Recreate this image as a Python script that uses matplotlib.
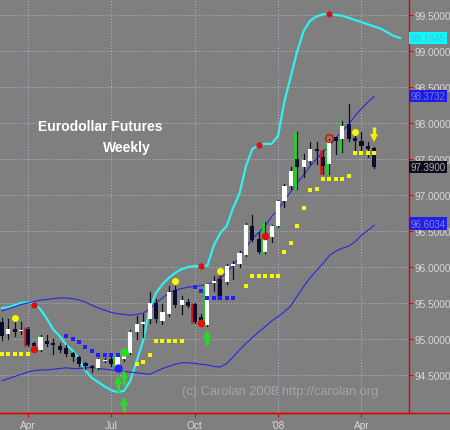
"""Eurodollar futures weekly candles with bands, stop dots and signal markers."""
import matplotlib

matplotlib.use("Agg")
import matplotlib.pyplot as plt
from matplotlib.lines import Line2D
from matplotlib.patches import Rectangle

plt.rcParams["font.family"] = ["Liberation Sans", "DejaVu Sans"]

# weekly bars, index 0 = early March 2007
opens = [95.24, 95.07, 95.14, 95.11, 95.14, 94.94, 94.85, 94.97, 94.94, 94.90,
         94.88, 94.80, 94.75, 94.67, 94.62, 94.60, 94.70, 94.72, 94.62, 94.72,
         94.80, 95.10, 95.21, 95.28, 95.50, 95.25, 95.35, 95.68, 95.47, 95.51,
         95.49, 95.30, 95.20, 95.78, 95.84, 95.79, 96.02, 96.04, 96.17, 96.57,
         96.39, 96.21, 96.42, 96.57, 96.92, 97.13, 97.50, 97.39, 97.47, 97.64,
         97.53, 97.43, 97.81, 97.78, 97.99, 97.79, 97.75, 97.68, 97.65]
highs = [95.29, 95.28, 95.25, 95.24, 95.16, 94.96, 95.05, 95.05, 95.00, 94.94,
         94.92, 94.82, 94.76, 94.68, 94.64, 94.73, 94.74, 94.76, 94.78, 94.80,
         95.12, 95.32, 95.35, 95.65, 95.56, 95.49, 95.74, 95.74, 95.60, 95.56,
         95.50, 95.35, 95.77, 95.875, 95.875, 96.04, 96.08, 96.22, 96.61, 96.72,
         96.49, 96.62, 96.58, 96.93, 97.15, 97.39, 97.88, 97.57, 97.74, 97.74,
         97.62, 97.78, 97.81, 98.03, 98.26, 97.82, 97.87, 97.74, 97.66]
lows = [94.99, 95.00, 95.04, 95.07, 94.90, 94.86, 94.83, 94.90, 94.79, 94.82,
        94.76, 94.70, 94.62, 94.58, 94.54, 94.59, 94.68, 94.62, 94.58, 94.69,
        94.79, 95.00, 95.03, 95.22, 95.24, 95.21, 95.32, 95.44, 95.35, 95.44,
        95.22, 95.18, 95.18, 95.67, 95.56, 95.76, 95.83, 96.00, 96.15, 96.36,
        96.19, 96.20, 96.35, 96.55, 96.83, 97.08, 97.08, 97.25, 97.43, 97.43,
        97.29, 97.29, 97.57, 97.60, 97.75, 97.60, 97.57, 97.53, 97.37]
closes = [95.04, 95.14, 95.10, 95.12, 94.92, 94.90, 95.03, 94.93, 94.92, 94.85,
          94.79, 94.75, 94.65, 94.63, 94.60, 94.72, 94.71, 94.65, 94.75, 94.76,
          95.10, 95.21, 95.23, 95.50, 95.28, 95.375, 95.65, 95.47, 95.54, 95.46,
          95.24, 95.24, 95.76, 95.80, 95.60, 96.01, 96.04, 96.19, 96.58, 96.375,
          96.21, 96.46, 96.57, 96.92, 97.13, 97.33, 97.39, 97.49, 97.64, 97.61,
          97.40, 97.75, 97.75, 97.96, 97.78, 97.75, 97.68, 97.64, 97.39]
# "g" = green signal bar, "r" = red signal bar
signal_bar = ["", "", "", "", "r", "", "g", "", "", "", "", "", "", "", "",
              "g", "", "", "g", "", "g", "", "", "", "", "", "", "", "", "",
              "r", "", "g", "", "r", "", "", "", "g", "", "", "g", "", "g", "",
              "", "g", "", "", "", "r", "g", "", "g", "", "", "", "", ""]

middle_band = [95.39, 95.42, 95.45, 95.48, 95.50, 95.52, 95.54, 95.55, 95.56, 95.57,
               95.57, 95.56, 95.54, 95.51, 95.47, 95.43, 95.40, 95.37, 95.35, 95.34,
               95.33, 95.34, 95.36, 95.42, 95.50, 95.57, 95.64, 95.68, 95.70, 95.72,
               95.73, 95.74, 95.76, 95.79, 95.85, 95.92, 96.02, 96.14, 96.27, 96.39,
               96.48, 96.57, 96.70, 96.80, 96.92, 97.05, 97.17, 97.28, 97.40, 97.50,
               97.60, 97.69, 97.79, 97.89, 97.98, 98.10, 98.20, 98.29, 98.37]
lower_band = [94.42, 94.45, 94.48, 94.51, 94.54, 94.56, 94.57, 94.57, 94.58, 94.59,
              94.60, 94.59, 94.59, 94.60, 94.60, 94.59, 94.58, 94.57, 94.56, 94.55,
              94.54, 94.53, 94.52, 94.51, 94.55, 94.59, 94.62, 94.65, 94.67, 94.67,
              94.66, 94.65, 94.64, 94.62, 94.61, 94.66, 94.75, 94.85, 94.94, 95.02,
              95.10, 95.17, 95.25, 95.31, 95.38, 95.46, 95.60, 95.73, 95.85, 95.95,
              96.05, 96.16, 96.22, 96.26, 96.29, 96.35, 96.44, 96.51, 96.58]
# displaced forward four weeks
cyan_band = [95.43, 95.44, 95.47, 95.50, 95.51, 95.50, 95.41, 95.28, 95.13, 95.04,
             94.92, 94.84, 94.72, 94.56, 94.46, 94.40, 94.34, 94.29, 94.26, 94.28,
             94.42, 94.70, 94.98, 95.42, 95.64, 95.76, 95.85, 95.92, 95.97, 96.00,
             96.01, 96.01, 96.02, 96.30, 96.47, 96.57, 96.82, 97.02, 97.40, 97.64,
             97.69, 97.71, 97.71, 97.82, 98.30, 98.65, 99.00, 99.28, 99.42, 99.48,
             99.51, 99.51, 99.50, 99.49, 99.46, 99.43, 99.40, 99.37, 99.34, 99.31,
             99.26, 99.21, 99.18]

yellow_stop_x = [0, 1, 2, 3, 4, 21, 22, 23, 24, 25, 26, 27, 28, 38, 39, 40, 41, 42,
                 43, 44, 45, 46, 47, 48, 49, 50, 51, 52, 53, 54, 55, 56, 57, 58]
yellow_stop_y = [94.79, 94.79, 94.79, 94.79, 94.79, 94.65, 94.68, 94.78, 94.97,
                 94.97, 94.97, 94.97, 94.97, 95.74, 95.875, 95.875, 95.875, 95.875,
                 95.875, 96.21, 96.33, 96.57, 96.82, 97.07, 97.08, 97.22, 97.22,
                 97.22, 97.22, 97.26, 97.58, 97.58, 97.58, 97.58]
blue_stop_x = [10, 11, 12, 13, 14, 15, 16, 17, 18, 30, 31, 32, 33, 34, 35, 36]
blue_stop_y = [95.04, 95.00, 94.96, 94.89, 94.83, 94.78, 94.78, 94.78, 94.78,
               95.72, 95.66, 95.57, 95.57, 95.57, 95.57, 95.57]

yellow_dot_x = [2, 27, 34, 55]
yellow_dot_y = [95.29, 95.81, 95.94, 97.875]
red_dot_x = [5, 31, 41]
red_dot_y = [94.86, 95.22, 96.43]
red_ring_x = [51]
red_ring_y = [97.79]
band_mark_x = [5, 31, 40, 51]
band_mark_y = [95.47, 96.01, 97.70, 99.51]
green_dot_x = [19]
green_dot_y = [94.82]
blue_dot_x = [18]
blue_dot_y = [94.60]
up_arrow_x = [18, 19, 19, 32]
up_arrow_y = [94.47, 94.56, 94.19, 95.11]
down_arrow_x = [58]
down_arrow_y = [97.75]

price_ticks = [94.5, 95.0, 95.5, 96.0, 96.5, 97.0, 97.5, 98.0, 98.5, 99.0, 99.5]
month_pos = [4, 17, 30, 43, 56]
month_labels = ["Apr", "Jul", "Oct", "'08", "Apr"]
last_values = [99.1845, 98.3732, 97.39, 96.6034]
last_colours = [("#00ffff", "#58b8c8"), ("#1c1ce8", "#7878c8"),
                ("#0c0c1c", "#b0b0b0"), ("#2020e8", "#8080d0")]

BG = "#7f7f7f"
TXT = "#d8d8d8"


def draw_candles(ax) -> None:
    """Draw each week as a candle, signal bars get a coloured edge line."""
    for i, (o, h, l, c) in enumerate(zip(opens, highs, lows, closes)):
        ax.plot([i, i], [l, h], color="#101018", lw=0.9, zorder=4)
        if signal_bar[i]:
            colour = "#10e010" if signal_bar[i] == "g" else "#e01010"
            ax.plot([i - 0.34, i - 0.34], [l, h], color=colour, lw=1.8,
                    zorder=5, solid_capstyle="butt")
        body_low = min(o, c)
        body_h = max(abs(c - o), 0.014)
        face = "white" if c >= o else "#0c0c30"
        ax.add_patch(Rectangle((i - 0.32, body_low), 0.64, body_h, facecolor=face,
                               edgecolor="none", zorder=5))


def draw_arrows(ax) -> None:
    """Green buy arrows point up, the yellow one points down."""
    for x, y in zip(up_arrow_x, up_arrow_y):
        ax.plot([x, x], [y - 0.2, y - 0.06], color="#20e020", lw=2.4,
                solid_capstyle="butt", zorder=7)
        ax.plot(x, y - 0.045, "^", color="#20e020", ms=6, mew=0, zorder=7)
    for x, y in zip(down_arrow_x, down_arrow_y):
        ax.plot([x, x], [y + 0.2, y + 0.06], color="#f0f000", lw=2.4,
                solid_capstyle="butt", zorder=7)
        ax.plot(x, y + 0.045, "v", color="#f0f000", ms=6, mew=0, zorder=7)


fig = plt.figure(figsize=(4.5, 4.31), dpi=100, facecolor=BG)
ax = fig.add_axes([0.0, 17 / 431, 409 / 450, 414 / 431])
ax.set_facecolor(BG)
ax.set_xlim(-0.31, 63.4)
ax.set_ylim(93.972, 99.722)

for p in price_ticks:
    ax.axhline(p, color="#b4b4d4", lw=0.7, ls=(0, (1, 2)), zorder=1)
for m in month_pos:
    ax.axvline(m, color="#b4b4d4", lw=0.7, ls=(0, (1, 2)), zorder=1)

ax.plot(range(len(cyan_band)), cyan_band, color="#30f0f0", lw=1.6, zorder=3)
ax.plot(range(len(middle_band)), middle_band, color="#2828e0", lw=0.8, zorder=3)
ax.plot(range(len(lower_band)), lower_band, color="#2828e0", lw=0.8, zorder=3)

draw_candles(ax)

ax.plot(yellow_stop_x, yellow_stop_y, "s", color="#f8f800", ms=2.2, mew=0, zorder=6)
ax.plot(blue_stop_x, blue_stop_y, "s", color="#2020ff", ms=2.6, mew=0, zorder=6)
ax.plot(yellow_dot_x, yellow_dot_y, "o", color="#f8f800", ms=5, mew=0, zorder=7)
ax.plot(red_dot_x, red_dot_y, "o", color="#e01010", ms=5.5, mew=0, zorder=7)
ax.plot(red_ring_x, red_ring_y, "o", mfc="none", mec="#e01010", ms=5.5, mew=1.2,
        zorder=7)
ax.plot(band_mark_x, band_mark_y, "o", color="#d81010", ms=4.5, mew=0, zorder=6)
ax.plot(green_dot_x, green_dot_y, "o", color="#20e020", ms=6, mew=0, zorder=7)
ax.plot(blue_dot_x, blue_dot_y, "o", color="#2020ff", ms=6, mew=0, zorder=7)
draw_arrows(ax)

ax.text(0.245, 0.693, "Eurodollar Futures", transform=ax.transAxes, color="white",
        fontsize=10, fontweight="bold", ha="center", va="center")
ax.text(0.31, 0.643, "Weekly", transform=ax.transAxes, color="white",
        fontsize=10, fontweight="bold", ha="center", va="center")
ax.text(0.685, 0.053, "(c) Carolan 2008 http://carolan.org", transform=ax.transAxes,
        color="#a4a4a4", fontsize=9.3, ha="center", va="center")

# axes: red frame on the right and bottom only
for side in ("top", "left"):
    ax.spines[side].set_visible(False)
for side in ("right", "bottom"):
    ax.spines[side].set_color("#e00000")
    ax.spines[side].set_linewidth(1.0)
fig.add_artist(Line2D([0, 1], [17 / 431, 17 / 431], color="#e00000", lw=1.0))

ax.yaxis.tick_right()
ax.set_yticks(price_ticks)
ax.set_yticklabels([f"{p:.4f}" for p in price_ticks])
ax.set_xticks(month_pos)
ax.set_xticklabels(month_labels)
ax.tick_params(axis="y", colors="#e00000", labelcolor=TXT, length=3, width=0.8,
               pad=1, labelsize=7.3)
ax.tick_params(axis="x", colors="#e00000", labelcolor=TXT, length=3, width=0.8,
               pad=2, labelsize=7.3)

for value, (face, ink) in zip(last_values, last_colours):
    ax.text(1.004, value, f"{value:.4f}", transform=ax.get_yaxis_transform(),
            color=ink, fontsize=7.0, ha="left", va="center", clip_on=False,
            zorder=10,
            bbox=dict(boxstyle="square,pad=0.12", facecolor=face, edgecolor="none"))

fig.savefig("out.png", dpi=100, facecolor=BG)
